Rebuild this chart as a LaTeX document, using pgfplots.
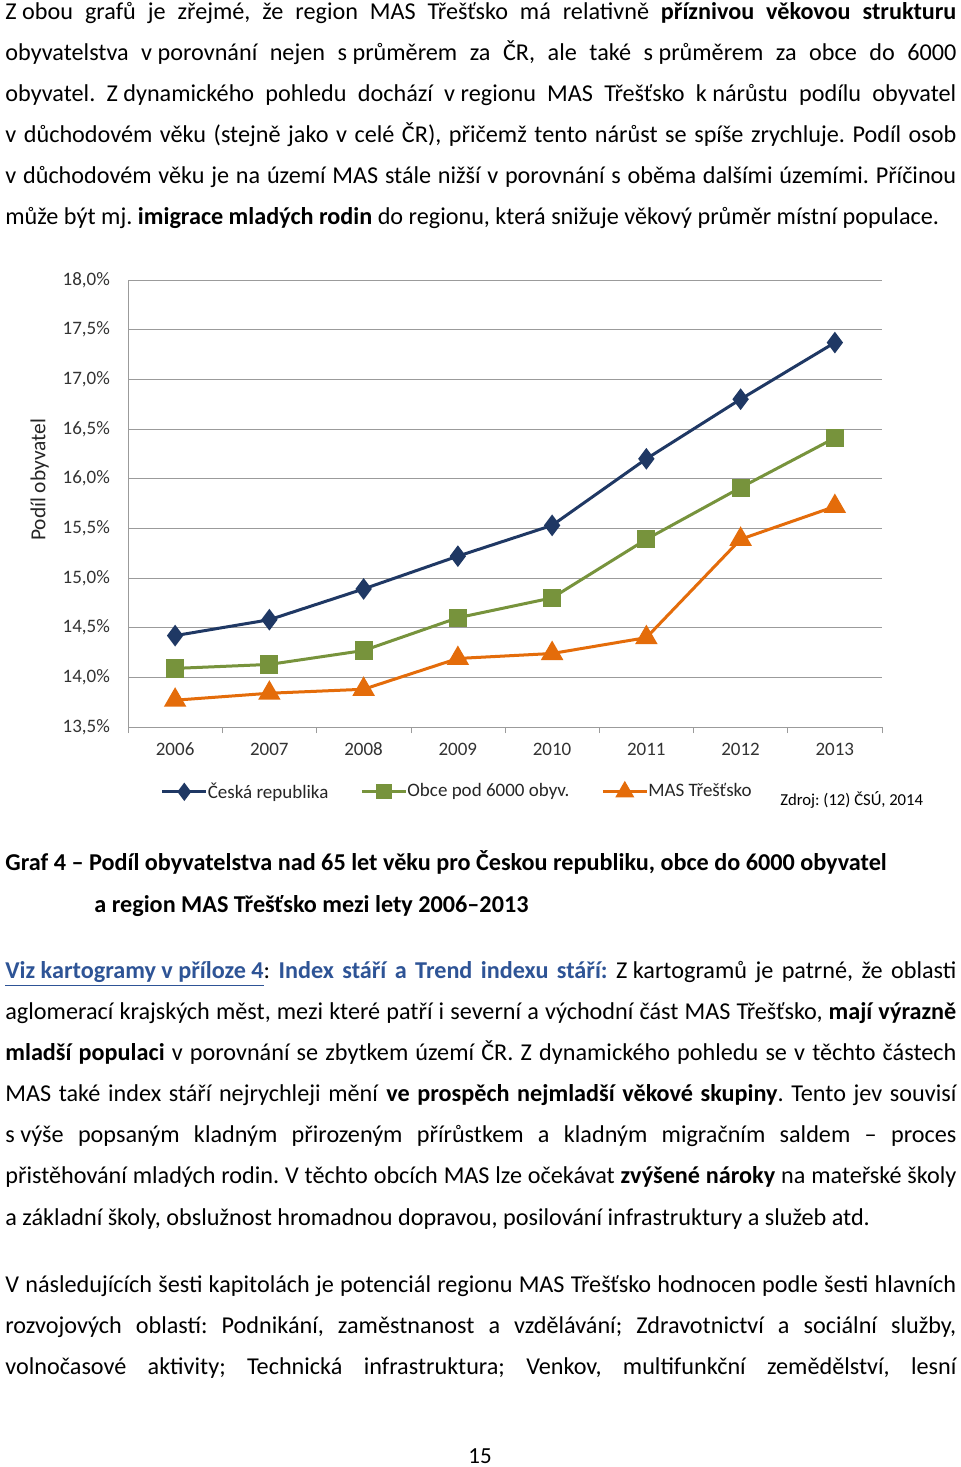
\documentclass[border=0pt]{standalone}
\usepackage{fontspec}
\setmainfont{Carlito}
\usepackage{pgfplots}
\pgfplotsset{compat=1.18}
\usepackage{pgfplotstable}

\definecolor{crblue}{RGB}{31,56,100}
\definecolor{obcegreen}{RGB}{119,147,60}
\definecolor{masorange}{RGB}{228,108,10}
\definecolor{linkblue}{RGB}{46,84,150}
\definecolor{gridgray}{RGB}{155,155,155}

% podíl obyvatel 65+ (%)
\pgfplotstableread{
rok  cr     obce   mas
2006 14.42  14.09  13.77
2007 14.58  14.13  13.84
2008 14.89  14.27  13.88
2009 15.22  14.60  14.19
2010 15.53  14.80  14.24
2011 16.20  15.39  14.40
2012 16.80  15.91  15.39
2013 17.37  16.41  15.72
}\podil

% one line of text: justified (jline) or left aligned (lline), y in px
\newcommand\jline[2]{\node[anchor=base west,inner sep=0pt] at (5,#1) {\makebox[475.5pt][s]{#2}};}
\newcommand\lline[2]{\node[anchor=base west,inner sep=0pt] at (5,#1) {#2};}
% fixed space after one-letter prepositions
\newcommand\fs{\kern0.226em}
\frenchspacing

\begin{document}
\begin{tikzpicture}
\path[use as bounding box,fill=white] (0pt,0pt) rectangle (480pt,-733.5pt);

\begin{scope}[x=0.5pt,y=-0.5pt,font=\fontsize{12.1}{20.5}\selectfont]
\jline{19}{Z\fs obou grafů je zřejmé, že region MAS Třešťsko má relativně \textbf{příznivou věkovou strukturu}}
\jline{60}{obyvatelstva v\fs porovnání nejen s\fs průměrem za ČR, ale také s\fs průměrem za obce do 6000}
\jline{101}{obyvatel. Z\fs dynamického pohledu dochází v\fs regionu MAS Třešťsko k\fs nárůstu podílu obyvatel}
\jline{142}{v důchodovém věku (stejně jako v celé ČR), přičemž tento nárůst se spíše zrychluje. Podíl osob}
\jline{183}{v důchodovém věku je na území MAS stále nižší v porovnání s oběma dalšími územími. Příčinou}
\lline{224}{může být mj. \textbf{imigrace mladých rodin} do regionu, která snižuje věkový průměr místní populace.}

\node[anchor=base west,inner sep=0pt,font=\bfseries\fontsize{12.1}{20.5}\selectfont] at (5,870) {Graf 4 – Podíl obyvatelstva nad 65 let věku pro Českou republiku, obce do 6000 obyvatel};
\node[anchor=base west,inner sep=0pt,font=\bfseries\fontsize{12.1}{20.5}\selectfont] at (94,912) {a region MAS Třešťsko mezi lety 2006–2013};

\jline{978}{{\color{linkblue}\textbf{\underline{Viz kartogramy v příloze 4}}}: {\color{linkblue}\textbf{Index stáří a Trend indexu stáří:}} Z\fs kartogramů je patrné, že oblasti}
\jline{1019}{aglomerací krajských měst, mezi které patří i severní a východní část MAS Třešťsko, \textbf{mají výrazně}}
\jline{1060}{\textbf{mladší populaci} v porovnání se zbytkem území ČR. Z dynamického pohledu se v těchto částech}
\jline{1101}{MAS také index stáří nejrychleji mění \textbf{ve prospěch nejmladší věkové skupiny}. Tento jev souvisí}
\jline{1142}{s\fs výše popsaným kladným přirozeným přírůstkem a kladným migračním saldem – proces}
\jline{1183}{přistěhování mladých rodin. V těchto obcích MAS lze očekávat \textbf{zvýšené nároky} na mateřské školy}
\lline{1225}{a základní školy, obslužnost hromadnou dopravou, posilování infrastruktury a služeb atd.}

\jline{1292}{V následujících šesti kapitolách je potenciál regionu MAS Třešťsko hodnocen podle šesti hlavních}
\jline{1333}{rozvojových oblastí: Podnikání, zaměstnanost a vzdělávání; Zdravotnictví a sociální služby,}
\jline{1374}{volnočasové aktivity; Technická infrastruktura; Venkov, multifunkční zemědělství, lesní}
\node[anchor=base,inner sep=0pt,font=\fontsize{11.5}{20.5}\selectfont] at (480,1463) {15};

\node[anchor=base west,inner sep=0pt,font=\fontsize{8.35}{10}\selectfont] at (780,805) {Zdroj: (12) ČSÚ, 2014};
\end{scope}

\begin{axis}[
    at={(64pt,-363.5pt)}, anchor=south west,
    scale only axis, width=377pt, height=223.5pt,
    xmin=2005.5, xmax=2013.5, ymin=13.5, ymax=18,
    axis lines*=left,
    axis line style={gridgray},
    xtick={2006,...,2013},
    xticklabels={2006,2007,2008,2009,2010,2011,2012,2013},
    extra x ticks={2005.5,2006.5,...,2013.5},
    extra x tick labels={},
    extra x tick style={major tick length=3pt, tick align=outside, tick style={gridgray}},
    ytick={13.5,14,...,18},
    yticklabel={\pgfmathprintnumber[fixed,fixed zerofill,precision=1,use comma]{\tick}\%},
    major tick length=0pt,
    ymajorgrids,
    grid style={gridgray, line width=0.5pt},
    /pgf/number format/assume math mode=true,
    tick label style={font=\fontsize{9.5}{11}\selectfont, text=black!80},
    yticklabel style={xshift=-5.5pt},
    xticklabel style={anchor=base, yshift=-14.3pt},
    ylabel={Podíl obyvatel},
    ylabel style={at={(axis description cs:-0.117,0.553)}, anchor=center, font=\fontsize{10.7}{12}\selectfont, text=black!85},
    legend columns=3,
    legend style={at={(axis description cs:0.438,-0.145)}, anchor=center, draw=none,
        font=\fontsize{9.5}{11}\selectfont, text=black!85,
        /tikz/every even column/.append style={column sep=14pt},
        /tikz/every odd column/.append style={column sep=-2pt}},
    legend image code/.code={\draw[mark repeat=2,mark phase=2,mark options={scale=0.8}] plot coordinates {(0pt,0pt) (11pt,0pt) (22pt,0pt)};},
    every axis plot/.append style={line width=1.5pt},
]
\addplot[crblue, mark=diamond*, mark size=4.2pt] table[x=rok,y=cr] {\podil};
\addplot[obcegreen, mark=square*, mark size=3.8pt] table[x=rok,y=obce] {\podil};
\addplot[masorange, mark=triangle*, mark size=5pt] table[x=rok,y=mas] {\podil};
\legend{Česká republika, Obce pod 6000 obyv., MAS Třešťsko}
\end{axis}
\end{tikzpicture}
\end{document}
